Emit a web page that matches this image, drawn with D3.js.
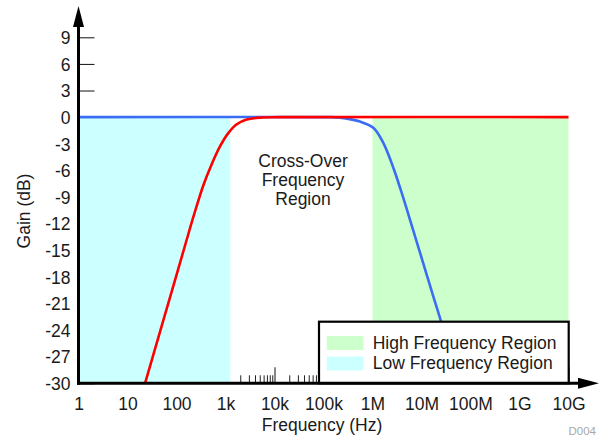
<!DOCTYPE html>
<html><head><meta charset="utf-8">
<script src="https://cdn.jsdelivr.net/npm/d3@7"></script>
<style>
html,body{margin:0;padding:0;background:#fff;}
svg{display:block;}
text{font-family:"Liberation Sans",Arial,Helvetica,sans-serif;fill:#1a1a1a;}
</style></head>
<body><svg id="chart" width="600" height="440"></svg>
<script>
// ---- data ----
const xTickValues = [1,10,100,1e3,1e4,1e5,1e6,1e7,1e8,1e9,1e10];
const xTickLabels = ["1","10","100","1k","10k","100k","1M","10M","100M","1G","10G"];
const yTickValues = [9,6,3,0,-3,-6,-9,-12,-15,-18,-21,-24,-27,-30];
const yTickLabels = ["9","6","3","0","-3","-6","-9","-12","-15","-18","-21","-24","-27","-30"];
// high-pass (red) curve
const hpFreq = [22.8, 46, 93, 156, 228, 352, 523, 772, 1140, 1693, 2710, 5060, 12900, 1e10];
const hpGain = [-30, -24.2, -18.4, -14.1, -11.0, -7.7, -5.3, -3.3, -1.8, -0.8, -0.27, -0.05, 0, 0];
// low-pass (blue) curve
const lpFreq = [1, 1e5, 217e3, 556e3, 1.038e6, 1.66e6, 2.66e6, 4.25e6, 6.81e6, 10.9e6, 17.4e6, 22.8e6, 60e6];
const lpGain = [0, 0, -0.05, -0.5, -1.2, -2.9, -5.7, -9.1, -12.8, -16.5, -20.2, -22.3, -30];
// regions
const lowRegion = [1, 1250];
const highRegion = [1e6, 1e10];
const legendLabels = ["High Frequency Region", "Low Frequency Region"];
const regionColors = ["#ccffcc", "#ccffff"];
const curveColors = ["#ff0000", "#3a6cf4"];

// ---- drawing ----
const svg = d3.select("#chart");
const FS = "17.5px";
const x = d3.scaleLog().domain([1, 1e10]).range([78.5, 568.5]);
const y = d3.scaleLinear().domain([-30, 9]).range([383.3, 37.3]);
const x0 = x.range()[0], yb = y(-30);

// minor ticks on x
const minorVals = [];
for (let d = 0; d < 10; d++) for (let m = 2; m <= 9; m++) minorVals.push(m * Math.pow(10, d));
svg.append("g").attr("transform", `translate(0,${yb})`)
  .call(d3.axisBottom(x).tickValues(minorVals).tickSize(-8).tickFormat(""))
  .call(g => g.select(".domain").remove())
  .call(g => g.selectAll("line").attr("stroke", "#222"));
// major ticks on x with labels
const xa = svg.append("g").attr("transform", `translate(0,${yb})`)
  .call(d3.axisBottom(x).tickValues(xTickValues).tickSize(-16)
    .tickFormat((d, i) => xTickLabels[i]));
xa.select(".domain").remove();
xa.selectAll("line").attr("stroke", "#111");
xa.selectAll("text").attr("y", 27).attr("dy", 0).attr("font-size", FS)
  .style("font-family", '"Liberation Sans",Arial,sans-serif').attr("fill", "#1a1a1a");

// y ticks
const ya = svg.append("g").attr("transform", `translate(${x0},0)`)
  .call(d3.axisLeft(y).tickValues(yTickValues).tickSize(-16).tickPadding(8)
    .tickFormat((d, i) => yTickLabels[i]));
ya.select(".domain").remove();
ya.selectAll("line").attr("stroke", "#111");
ya.selectAll("text").attr("font-size", FS).attr("dy", "0.36em")
  .style("font-family", '"Liberation Sans",Arial,sans-serif').attr("fill", "#1a1a1a");

// region fills
svg.append("rect").attr("x", x(lowRegion[0]) + 1.5).attr("y", y(0))
  .attr("width", x(lowRegion[1]) - x(lowRegion[0]) - 1.5).attr("height", yb - y(0))
  .attr("fill", regionColors[1]);
svg.append("rect").attr("x", x(highRegion[0])).attr("y", y(0))
  .attr("width", x(highRegion[1]) - x(highRegion[0])).attr("height", yb - y(0))
  .attr("fill", regionColors[0]);

// clip
svg.append("clipPath").attr("id", "clip").append("rect")
  .attr("x", x0).attr("y", y(9) - 20).attr("width", 500).attr("height", yb - y(9) + 20);

const line = d3.line().x(d => x(d[0])).y(d => Math.max(y(d[1]), y(0)))
  .curve(d3.curveCatmullRom.alpha(0.5));
svg.append("path").attr("d", line(lpFreq.map((f, i) => [f, lpGain[i]])))
  .attr("fill", "none").attr("stroke", curveColors[1]).attr("stroke-width", 2.6)
  .attr("clip-path", "url(#clip)");
svg.append("path").attr("d", line(hpFreq.map((f, i) => [f, hpGain[i]])))
  .attr("fill", "none").attr("stroke", curveColors[0]).attr("stroke-width", 2.6)
  .attr("clip-path", "url(#clip)");

// annotation
const ann = ["Cross-Over", "Frequency", "Region"];
svg.append("g").selectAll("text").data(ann).join("text")
  .attr("x", 303).attr("y", (d, i) => 166.5 + i * 19.2)
  .attr("text-anchor", "middle").attr("font-size", FS).text(d => d);

// legend
const lg = svg.append("g");
lg.append("rect").attr("x", 319).attr("y", 321.7).attr("width", 249.7).attr("height", yb - 321.7)
  .attr("fill", "#fff").attr("stroke", "#000").attr("stroke-width", 2.2);
legendLabels.forEach((t, i) => {
  lg.append("rect").attr("x", 326.7).attr("y", 336 + i * 20.5).attr("width", 36.6).attr("height", 14)
    .attr("fill", regionColors[i]);
  lg.append("text").attr("x", 372.7).attr("y", 348.5 + i * 20.8).attr("font-size", FS).text(t);
});

// axis lines with arrows
svg.append("line").attr("x1", x0).attr("x2", x0).attr("y1", yb + 1.5).attr("y2", 24)
  .attr("stroke", "#000").attr("stroke-width", 3);
svg.append("path").attr("d", `M${x0},6 L${x0 - 5.5},27 L${x0 + 5.5},27 Z`).attr("fill", "#000");
svg.append("line").attr("x1", x0 - 1.5).attr("x2", 582).attr("y1", yb).attr("y2", yb)
  .attr("stroke", "#000").attr("stroke-width", 3);
svg.append("path").attr("d", `M599,${yb} L578,${yb - 5.5} L578,${yb + 5.5} Z`).attr("fill", "#000");

// axis titles
svg.append("text").attr("x", 322).attr("y", 431).attr("text-anchor", "middle")
  .attr("font-size", FS).text("Frequency (Hz)");
svg.append("text").attr("transform", "translate(30,211) rotate(-90)").attr("text-anchor", "middle")
  .attr("font-size", FS).text("Gain (dB)");
svg.append("text").attr("x", 596).attr("y", 435).attr("text-anchor", "end")
  .attr("font-size", "11.5px").style("fill", "#a8a8a8").text("D004");
</script></body></html>
